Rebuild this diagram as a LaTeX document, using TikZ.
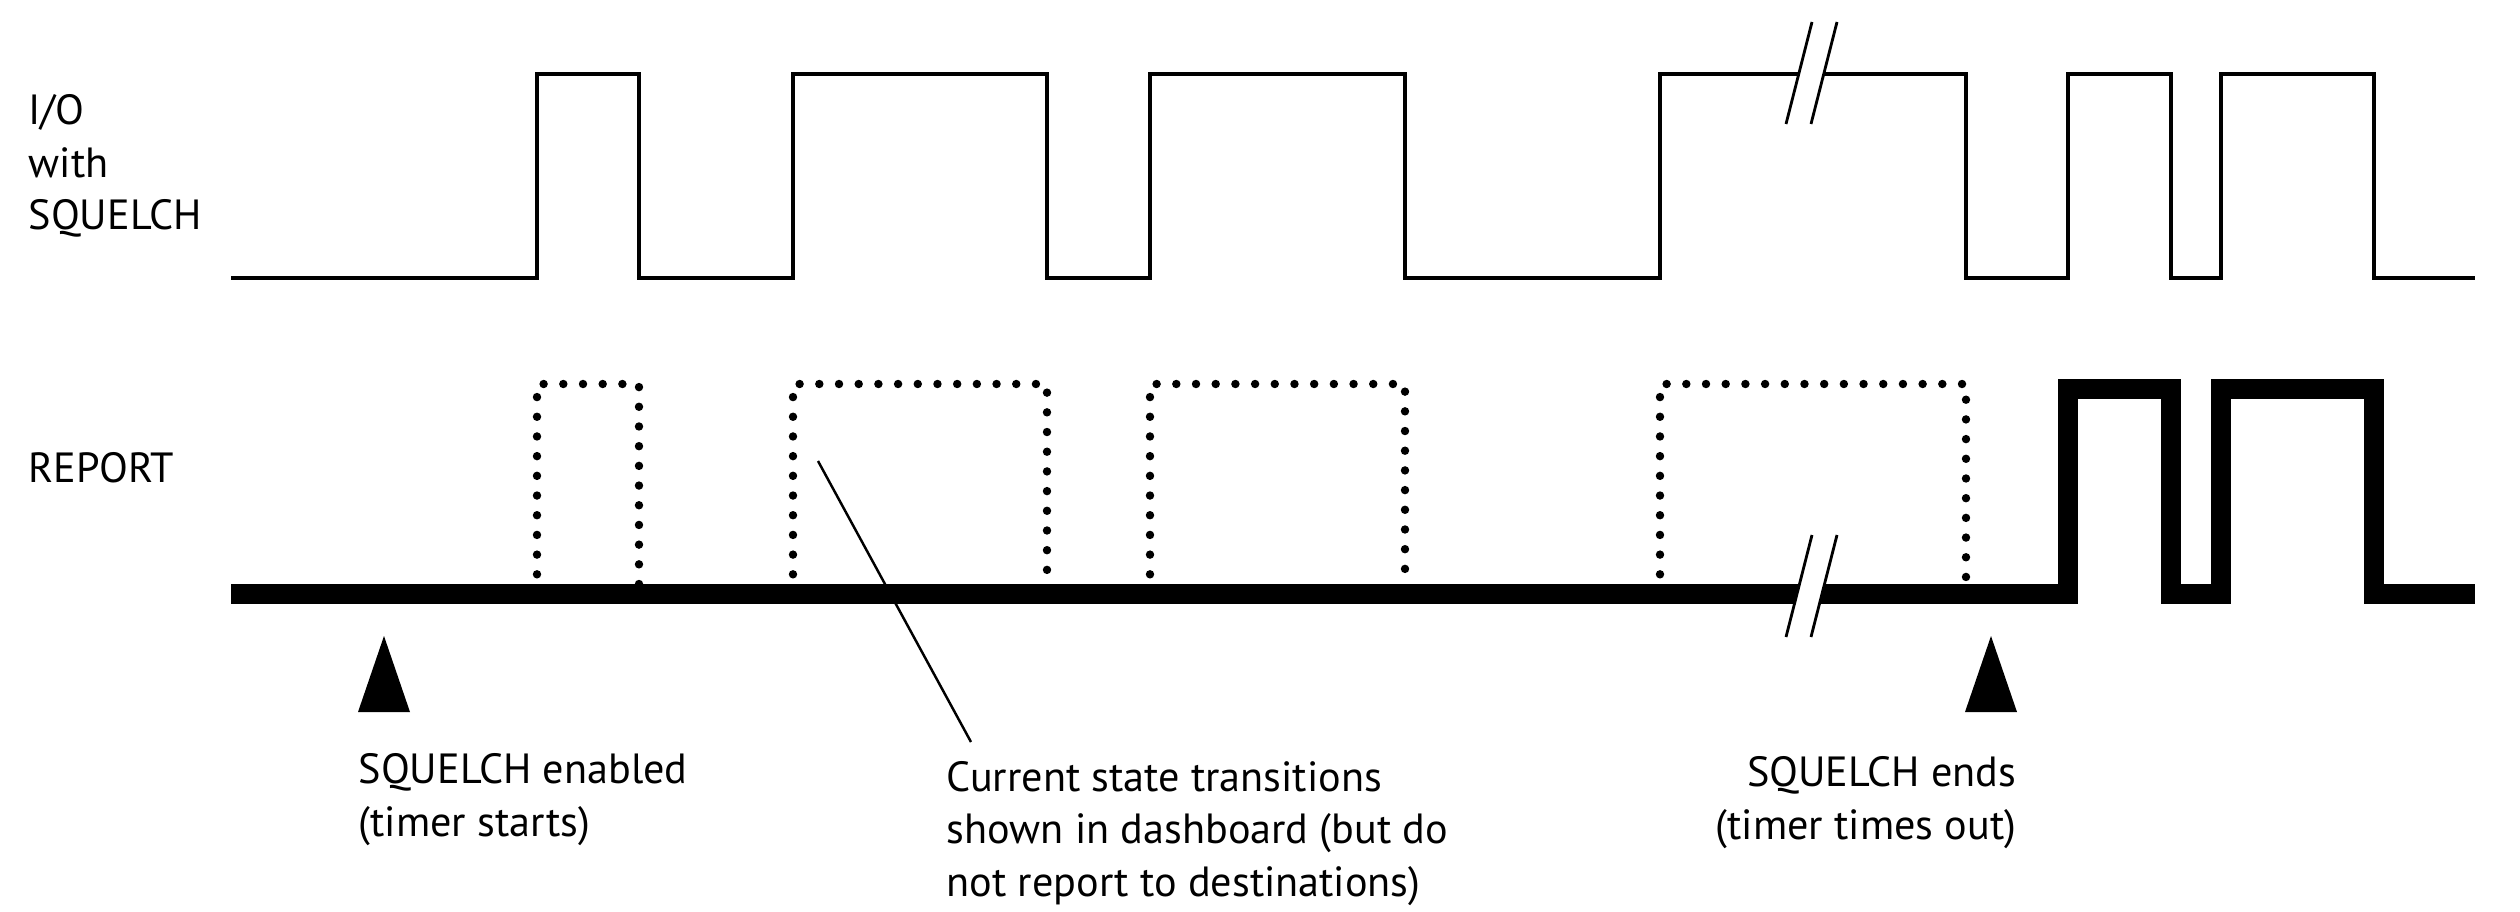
\documentclass[tikz,border=0pt]{standalone}
\usepackage{fontspec}
\setmainfont{PT Sans}
\usepackage{tikz}
\usetikzlibrary{positioning}
\tikzset{
  sig/.style={black,line width=0.9pt,line join=miter},
  rep/.style={black,line width=5.7pt,line join=miter},
  dots/.style={black,line width=2.4pt,line cap=round,dash pattern=on 0pt off 5.6pt},
  brk/.style={black,line width=0.8pt},
  lbl/.style={inner sep=0pt,font=\fontsize{12}{14.9}\selectfont,align=left}
}

\begin{document}
\begin{tikzpicture}[x=0.01cm,y=-0.01cm]
%Pixelmasse des Bildes, y nach unten
  \useasboundingbox (0,0) rectangle (2520,912);
  \pgfmathsetmacro{\lo}{278}
  \pgfmathsetmacro{\hi}{74}
  \pgfmathsetmacro{\rb}{594}
  \pgfmathsetmacro{\rt}{389}
  \pgfmathsetmacro{\dt}{384}
%I/O Signal
\draw[sig] (231,\lo) -| (537,\hi) -| (639,\lo) -| (793,\hi) -| (1047,\lo) -| (1150,\hi) -| (1405,\lo) -| (1660,\hi) -| (1966,\lo) -| (2068,\hi) -| (2171,\lo) -| (2221,\hi) -| (2374,\lo) -- (2475,\lo);
%unterdrueckte Meldungen
\foreach \a/\b in {537/639,793/1047,1150/1405,1660/1966}{
\draw[dots] (\a,\rb) |- (\b,\dt) -- (\b,\rb);
}
\draw[rep] (231,\rb) -| (2068,\rt) -| (2171,\rb) -| (2221,\rt) -| (2374,\rb) -- (2475,\rb);
%Unterbrechung
\foreach \y in {124,637}{
\fill[white] (1786,\y) -- ++(26,-102) -- ++(25,0) -- ++(-26,102) -- cycle;
\draw[brk] (1786,\y) -- ++(26,-102);
\draw[brk] (1811,\y) -- ++(26,-102);
}
\foreach \t in {384,1991}{
\fill (\t,636) -- ++(26,76) -- ++(-52,0) -- cycle;
}
%Grundlinie der letzten Zeile
\node[lbl,anchor=base west] (io) at (28,229.5) {I/O\\with\\SQUELCH};
\node[lbl,anchor=base west] (report) at (28,482) {REPORT};
\node[lbl,anchor=base west] (sqon) at (358,836) {SQUELCH enabled\\(timer starts)};
\node[lbl,anchor=base west] (trans) at (946,896) {Current state transitions\\shown in dashboard (but do\\not report to destinations)};
\node[lbl,anchor=base east,align=right] (sqoff) at (2017,839) {SQUELCH ends\\(timer times out)};
\coordinate (lead) at (818,461);
\coordinate (leadend) at (971,742);
\draw[black,line width=0.7pt] (lead) -- (leadend);
\end{tikzpicture}
\end{document}
